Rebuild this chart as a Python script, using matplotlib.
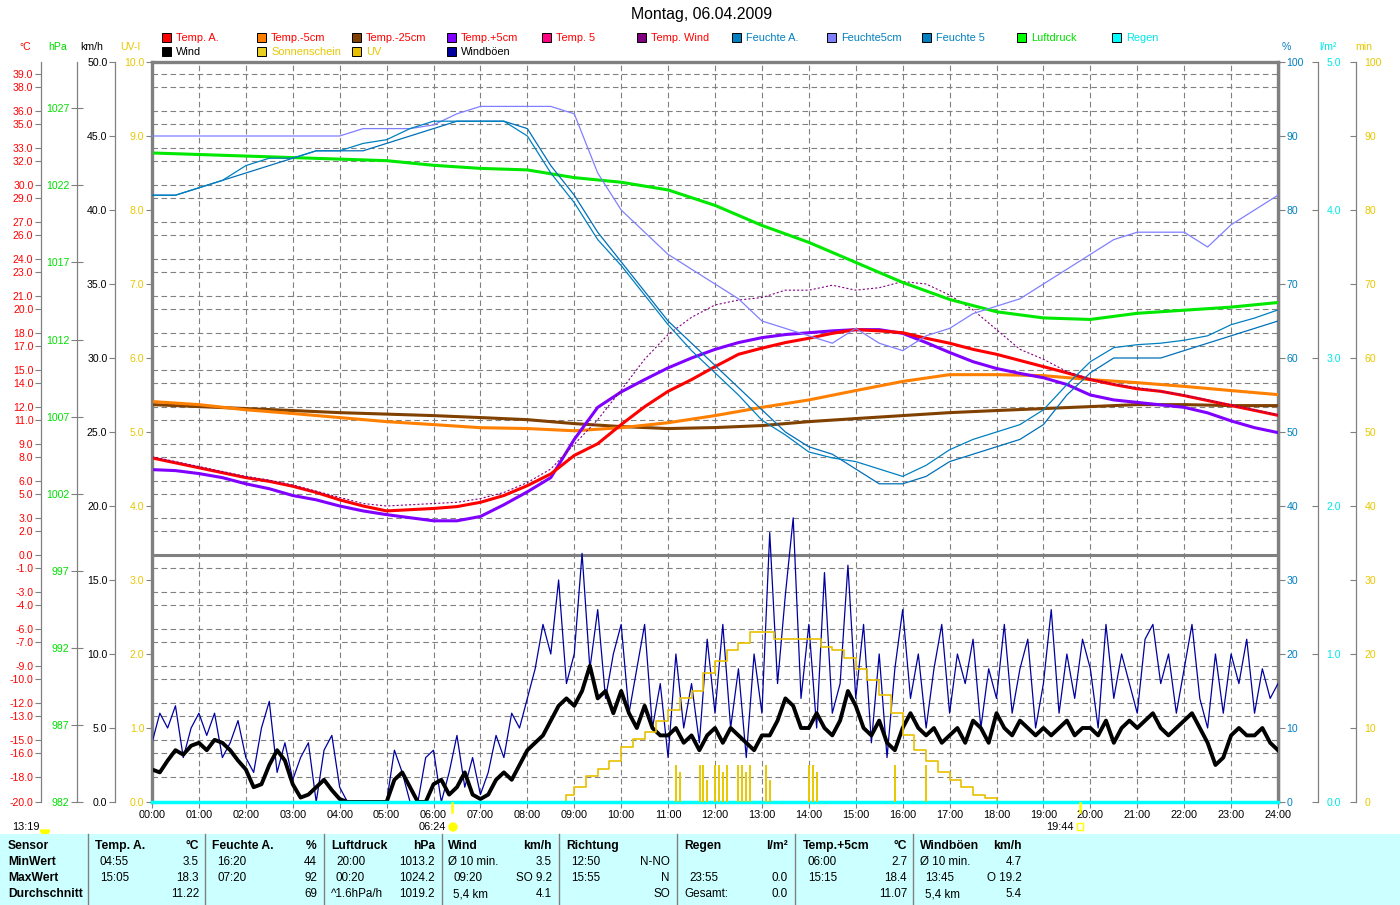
import numpy as np
import matplotlib
matplotlib.use("Agg")
import matplotlib.pyplot as plt
from matplotlib.patches import Rectangle

plt.rcParams['font.family'] = ['Liberation Sans', 'DejaVu Sans']
plt.rcParams['lines.scale_dashes'] = False

# ---------------- data ----------------
t30 = np.arange(0, 24.01, 0.5)
t60 = np.arange(0, 25, 1.0)
t10 = np.arange(0, 24.01, 1 / 6)

temp_a = [7.9, 7.5, 7.1, 6.7, 6.3, 6.0, 5.6, 5.1, 4.5, 4.0, 3.6, 3.7, 3.8, 3.95, 4.3, 4.85,
          5.65, 6.6, 8.1, 9.05, 10.6, 12.05, 13.3, 14.25, 15.3, 16.3, 16.8, 17.25, 17.6, 18.0,
          18.3, 18.2, 18.05, 17.6, 17.2, 16.7, 16.3, 15.8, 15.3, 14.8, 14.25, 13.85, 13.5, 13.3,
          12.95, 12.55, 12.15, 11.75, 11.35]
temp_p5 = [6.95, 6.87, 6.63, 6.3, 5.8, 5.4, 4.85, 4.5, 4.0, 3.6, 3.3, 3.05, 2.8, 2.8, 3.15, 4.1,
           5.15, 6.3, 9.4, 12.0, 13.25, 14.25, 15.2, 16.0, 16.7, 17.25, 17.65, 17.9, 18.05, 18.2,
           18.3, 18.3, 18.0, 17.25, 16.45, 15.7, 15.15, 14.75, 14.4, 13.85, 13.0, 12.6, 12.4, 12.2,
           12.0, 11.55, 10.9, 10.35, 9.95]
temp_wind = [8.0, 7.6, 7.2, 6.8, 6.4, 6.1, 5.7, 5.2, 4.7, 4.2, 4.0, 4.1, 4.2, 4.3, 4.6, 5.1,
             5.9, 7.0, 9.0, 11.0, 13.4, 15.9, 17.9, 19.3, 20.3, 20.7, 20.9, 21.5, 21.5, 21.9,
             21.5, 21.7, 22.2, 22.0, 21.1, 19.9, 18.3, 16.7, 15.9, 14.9, 14.3, 13.9, 13.6, 13.3,
             13.0, 12.6, 12.2, 11.8, 11.4]
temp_m5 = [12.47, 12.22, 11.8, 11.5, 11.17, 10.84, 10.6, 10.35, 10.28, 10.1, 10.35, 10.75, 11.33,
           12.0, 12.6, 13.36, 14.1, 14.65, 14.65, 14.57, 14.25, 14.0, 13.7, 13.36, 13.03]
temp_m25 = [12.22, 12.06, 11.9, 11.74, 11.57, 11.45, 11.33, 11.17, 11.0, 10.68, 10.44, 10.28, 10.36,
            10.52, 10.84, 11.09, 11.33, 11.57, 11.74, 11.9, 12.06, 12.22, 12.22, 12.14, 12.14]
pressure = [1024.1, 1024.0, 1023.9, 1023.8, 1023.7, 1023.6, 1023.3, 1023.1, 1023.0, 1022.5, 1022.2,
            1021.7, 1020.7, 1019.4, 1018.3, 1017.0, 1015.7, 1014.6, 1013.8, 1013.4, 1013.3, 1013.7,
            1013.9, 1014.1, 1014.4]
hum_a = [82, 82, 83, 84, 86, 87, 87, 88, 88, 89, 89.5, 91, 92, 92, 92, 92, 90, 85, 81, 76, 72.5,
         68.5, 64.5, 61, 58, 55, 51.6, 49.6, 47.3, 46.5, 46, 45, 44, 45.5, 47.6, 49, 50, 51, 53,
         56.4, 59.5, 61.4, 61.8, 62, 62.4, 63, 64.5, 65.4, 66.5]
hum_5 = [82, 82, 83, 84, 85, 86, 87, 88, 88, 88, 89, 90, 91, 92, 92, 92, 91, 86, 82, 77, 73, 69,
         65, 62, 59, 56, 53, 50, 48, 47, 45, 43, 43, 44, 46, 47, 48, 49, 51, 55, 58, 60, 60, 60,
         61, 62, 63, 64, 65]
hum_5cm = [90, 90, 90, 90, 90, 90, 90, 90, 90, 91, 91, 91, 91.5, 93, 94, 94, 94, 94, 93, 85, 80,
           77, 74, 72, 70, 68, 65, 64, 63, 62, 64, 62, 61, 63, 64, 66, 67, 68, 70, 72, 74, 76,
           77, 77, 77, 75, 78, 80, 82]

wind = [2.2, 2.0, 2.8, 3.5, 3.2, 3.8,  4.0, 3.5, 4.2, 4.0, 3.5, 2.8,  2.2, 1.0, 1.2, 2.5, 3.5, 2.8,
        1.2, 0.3, 0.5, 1.0, 1.5, 0.8,  0.2, 0.0, 0.0, 0.0, 0.0, 0.0,  0.0, 1.5, 2.0, 1.0, 0.0, 0.0,
        1.2, 1.5, 0.5, 1.0, 2.0, 0.5,  0.2, 0.5, 1.5, 2.0, 1.5, 2.5,  3.5, 4.0, 4.5, 5.5, 6.5, 7.0,
        6.5, 7.5, 9.2, 7.0, 7.5, 6.0,  7.5, 6.0, 5.0, 6.5, 5.0, 4.5,  4.5, 5.0, 4.0, 4.5, 3.5, 4.5,
        5.0, 4.0, 5.0, 4.5, 4.0, 3.5,  4.5, 4.5, 5.5, 7.0, 6.5, 5.0,  5.0, 6.0, 5.0, 4.5, 5.5, 7.5,
        6.5, 5.0, 4.5, 5.5, 4.0, 3.5,  5.0, 6.0, 5.0, 4.5, 5.0, 4.0,  4.5, 5.0, 4.0, 5.5, 5.0, 4.0,
        6.0, 5.0, 4.5, 5.5, 5.0, 4.5,  5.0, 4.5, 5.0, 5.5, 4.5, 5.0,  5.0, 4.5, 5.5, 4.0, 5.0, 5.5,
        5.0, 5.5, 6.0, 5.0, 4.5, 5.0,  5.5, 6.0, 5.0, 4.0, 2.5, 3.0,  4.5, 5.0, 4.5, 4.5, 5.0, 4.0,
        3.5]
gust = [4, 6, 5, 6.5, 3, 5,  6, 4.5, 6, 3, 4, 5.5,  3, 2, 5, 6.8, 2, 4,  1.5, 3, 4, 0, 3.5, 4.5,
        1, 0, 0, 0, 0, 0,  0, 3.5, 2, 0, 0, 3,  3.5, 0, 2, 4.5, 1, 3,  0.5, 2, 4.5, 3, 6, 5,
        7, 9, 12, 10, 15, 8,  10, 16.8, 9, 13, 7, 10,  12, 6, 9, 12, 5, 8,  3, 10, 5, 8, 4, 11,
        6, 12, 5, 9, 3, 10,  6, 18.2, 8, 14, 19.2, 7,  12, 5, 15.5, 6, 8, 16,  7, 12, 4, 10, 3, 9,
        13, 7, 10, 5, 9, 12,  6, 10, 8, 11, 5, 9,  7, 12, 6, 9, 11, 5,  8, 13, 6, 10, 7, 11,
        9, 5, 12, 7, 10, 8,  6, 11, 12, 8, 10, 6,  9, 12, 7, 5, 10, 6,  10, 8, 11, 6, 9, 7,
        8]

uv_t = [8.67, 8.83, 9.0, 9.25, 9.5, 9.75, 10.0, 10.25, 10.5, 10.75, 11.0, 11.25, 11.5, 11.75, 12.0,
        12.25, 12.5, 12.75, 13.0, 13.25, 13.5, 13.75, 14.0, 14.25, 14.5, 14.75, 15.0, 15.25, 15.5,
        15.75, 16.0, 16.25, 16.5, 16.75, 17.0, 17.25, 17.5, 17.75, 18.0]
uv = [0.0, 0.1, 0.2, 0.35, 0.45, 0.55, 0.75, 0.85, 0.95, 1.1, 1.25, 1.4, 1.5, 1.75, 1.9, 2.05,
      2.15, 2.3, 2.3, 2.2, 2.2, 2.2, 2.2, 2.1, 2.05, 1.95, 1.8, 1.65, 1.45, 1.2, 0.9, 0.7, 0.55,
      0.4, 0.3, 0.2, 0.1, 0.05, 0.0]
sun_t = [11.17, 11.25, 11.67, 11.75, 11.83, 12.0, 12.08, 12.17, 12.25, 12.5, 12.58, 12.67, 12.75,
         13.08, 13.17, 14.0, 14.08, 14.17, 15.83, 16.5]
sun_min = [5, 4, 5, 5, 3, 5, 5, 4, 5, 5, 5, 4, 5, 5, 3, 5, 5, 4, 5, 5]
rain = [0.0, 0.0]
rain_t = [0, 24]

c_ticks = [39, 38, 36, 35, 33, 32, 30, 29, 27, 26, 24, 23, 21, 20, 18, 17, 15, 14, 12, 11, 9, 8,
           6, 5, 3, 2, 0, -1, -3, -4, -6, -7, -9, -10, -12, -13, -15, -16, -18, -20]
hours = [f"{h:02d}:00" for h in range(25)]

# ---------------- layout ----------------
W, H = 1400, 905
X0, X1, Y0, Y1 = 152, 1278, 62, 802
fig = plt.figure(figsize=(W / 100, H / 100), dpi=100)
rect = [X0 / W, 1 - Y1 / H, (X1 - X0) / W, (Y1 - Y0) / H]
GREY = '#808080'
RED, GREEN, BLUE, CYAN, YEL = '#ff0000', '#00e000', '#0080c0', '#00e8e8', '#e8c800'
FS = 7.6
TFS = 8.4

ax = fig.add_axes(rect)
ax.set_xlim(0, 24)
ax.set_ylim(-20, 40)
ax.set_yticks([])
ax.set_xticks(range(25))
ax.set_xticklabels(hours, fontsize=7.8)
ax.tick_params(axis='x', length=4, color=GREY, pad=2)
for v in c_ticks:
    if v not in (0, -20):
        ax.axhline(v, color=GREY, lw=0.8, dashes=(4, 2.5), zorder=0)
for h in range(1, 24):
    ax.axvline(h, color=GREY, lw=0.8, dashes=(4, 2.5), zorder=0)
ax.axhline(0, color=GREY, lw=2.2, zorder=1)
for s in ('left', 'top', 'right'):
    ax.spines[s].set_color(GREY)
    ax.spines[s].set_linewidth(2.4)
ax.spines['bottom'].set_color(GREY)
ax.spines['bottom'].set_linewidth(1)


def scale_axis(ylim, side, xpx, ticks, labels, color, direction, length=4):
    a = fig.add_axes(rect, sharex=ax)
    a.patch.set_visible(False)
    a.set_ylim(*ylim)
    for s in a.spines.values():
        s.set_visible(False)
    a.spines[side].set_visible(True)
    a.spines[side].set_color(GREY)
    a.spines[side].set_linewidth(0.9)
    a.spines[side].set_position(('axes', (xpx - X0) / (X1 - X0)))
    a.yaxis.set_ticks_position(side)
    a.yaxis.set_label_position(side)
    a.set_yticks(ticks)
    a.set_yticklabels(labels, color=color, fontsize=FS)
    a.tick_params(axis='y', direction=direction, length=length, color=GREY, pad=1.5)
    a.tick_params(axis='x', which='both', bottom=False, labelbottom=False)
    return a


ax_c = scale_axis((-20, 40), 'left', 41, c_ticks, [f"{v:.1f}" for v in c_ticks], RED, 'out')
pt = list(range(982, 1030, 5))
ax_p = scale_axis((982, 1030), 'left', 77, pt, [str(v) for v in pt], GREEN, 'inout', 8)
kt = list(range(0, 51, 5))
ax_k = scale_axis((0, 50), 'left', 115, kt, [f"{v:.1f}" for v in kt], 'black', 'out')
ut = list(range(0, 11))
ax_u = scale_axis((0, 10), 'left', X0, ut, [f"{v:.1f}" for v in ut], YEL, 'out')
ht = list(range(0, 101, 10))
ax_h = scale_axis((0, 100), 'right', X1 + 1, ht, [str(v) for v in ht], BLUE, 'out')
rt = [0, 1, 2, 3, 4, 5]
ax_r = scale_axis((0, 5), 'right', 1318, rt, [f"{v:.1f}" for v in rt], CYAN, 'in')
mt = list(range(0, 101, 10))
ax_m = scale_axis((0, 100), 'right', 1356, mt, [str(v) for v in mt], YEL, 'in')
for a in (ax_r, ax_m):
    a.tick_params(axis='y', pad=6)

# ---------------- series ----------------
ax_m.vlines(sun_t, 0, sun_min, color='#e8c800', lw=1.4)
ax_u.plot(uv_t, uv, color='#e8c000', lw=1.2, drawstyle='steps-post')
ax_r.plot(rain_t, rain, color='#00ffff', lw=2.5, clip_on=False)
ax_h.plot(t30, hum_5cm, color='#8080ff', lw=0.9)
ax_h.plot(t30, hum_5, color='#0070b8', lw=0.9)
ax_h.plot(t30, hum_a, color='#0080c0', lw=0.9)
ax_p.plot(t60, pressure, color='#00e800', lw=2.2)
ax_c.plot(t60, temp_m25, color='#804000', lw=2.2)
ax_c.plot(t60, temp_m5, color='#ff8000', lw=2.2)
ax_c.plot(t30, temp_p5, color='#8000ff', lw=2.2)
ax_c.plot(t30, temp_a, color='#ff0000', lw=2.2)
ax_c.plot(t30, temp_wind, color='#800080', lw=0.8, dashes=(1.5, 1.5))
ax_k.plot(t10, gust, color='#0000a0', lw=0.9)
ax_k.plot(t10, wind, color='black', lw=2.8)

# ---------------- overlay: labels, legend, table ----------------
ov = fig.add_axes([0, 0, 1, 1])
ov.set_xlim(0, W)
ov.set_ylim(H, 0)
ov.axis('off')
ov.patch.set_visible(False)

ov.text(702, 15, "Montag, 06.04.2009", ha='center', va='center', fontsize=11.4)
for txt, x, col in [("°C", 25, RED), ("hPa", 58, GREEN), ("km/h", 92, 'black'), ("UV-I", 130, YEL),
                    ("%", 1286, BLUE), ("l/m²", 1328, CYAN), ("min", 1364, YEL)]:
    ov.text(x, 47, txt, ha='center', va='center', fontsize=FS, color=col)

legend_row1 = [("Temp. A.", '#ff0000', RED), ("Temp.-5cm", '#ff8000', RED), ("Temp.-25cm", '#804000', RED),
               ("Temp.+5cm", '#8000ff', RED), ("Temp. 5", '#ff0080', RED), ("Temp. Wind", '#800080', RED),
               ("Feuchte A.", '#0080c0', BLUE), ("Feuchte5cm", '#8080ff', BLUE), ("Feuchte 5", '#0080c0', BLUE),
               ("Luftdruck", '#00ff00', GREEN), ("Regen", '#00ffff', CYAN)]
legend_row2 = [("Wind", '#000000', 'black'), ("Sonnenschein", '#e8d020', YEL), ("UV", '#e8c000', YEL),
               ("Windböen", '#0000a0', 'black')]
for row, yc in ((legend_row1, 38), (legend_row2, 52)):
    for i, (name, sq, tc) in enumerate(row):
        x = 162 + 95 * i
        ov.add_patch(Rectangle((x, yc - 4.5), 9, 9, facecolor=sq, edgecolor='black', lw=0.7))
        ov.text(x + 14, yc, name, va='center', ha='left', fontsize=FS + 0.3, color=tc)

# sunrise / sunset
ov.text(12, 827, "13:19", va='center', ha='left', fontsize=FS + 0.3)
ov.add_patch(matplotlib.patches.Wedge((45, 830), 4.5, 0, 180, color='#ffff00'))
ov.plot([452, 452], [803, 812], color='#ffff00', lw=1.8)
ov.text(446, 827, "06:24", va='center', ha='right', fontsize=FS + 0.3)
ov.add_patch(matplotlib.patches.Circle((453, 827), 4, color='#ffff00'))
ov.plot([1080, 1080], [803, 812], color='#ffff00', lw=1.8)
ov.text(1074, 827, "19:44", va='center', ha='right', fontsize=FS + 0.3)
ov.add_patch(Rectangle((1077, 823), 6, 7, facecolor='none', edgecolor='#ffff00', lw=1))

# table
ov.add_patch(Rectangle((0, 834), W, H - 834, facecolor='#ccffff', edgecolor='none'))
for xs in (88, 205, 324, 442, 559, 677, 795, 913):
    ov.plot([xs, xs], [834, H], color=GREY, lw=1)
rows_y = [846, 862, 878, 894]
for txt, yy in zip(["Sensor", "MinWert", "MaxWert", "Durchschnitt"], rows_y):
    ov.text(8, yy, txt, va='center', ha='left', fontsize=TFS + 0.3, fontweight='bold')

table = [
    (95, 199, ("Temp. A.", "°C"), [("04:55", "3.5"), ("15:05", "18.3"), ("", "11.22")]),
    (212, 317, ("Feuchte A.", "%"), [("16:20", "44"), ("07:20", "92"), ("", "69")]),
    (331, 435, ("Luftdruck", "hPa"), [("20:00", "1013.2"), ("00:20", "1024.2"), ("^1.6hPa/h", "1019.2")]),
    (448, 552, ("Wind", "km/h"), [("Ø 10 min.", "3.5"), ("09:20", "SO 9.2"), ("5,4 km", "4.1")]),
    (566, 670, ("Richtung", ""), [("12:50", "N-NO"), ("15:55", "N"), ("", "SO")]),
    (684, 788, ("Regen", "l/m²"), [("", ""), ("23:55", "0.0"), ("Gesamt:", "0.0")]),
    (803, 907, ("Temp.+5cm", "°C"), [("06:00", "2.7"), ("15:15", "18.4"), ("", "11.07")]),
    (920, 1022, ("Windböen", "km/h"), [("Ø 10 min.", "4.7"), ("13:45", "O 19.2"), ("5,4 km", "5.4")]),
]
for xl, xr, head, vals in table:
    ov.text(xl, rows_y[0], head[0], va='center', ha='left', fontsize=TFS + 0.3, fontweight='bold')
    ov.text(xr, rows_y[0], head[1], va='center', ha='right', fontsize=TFS + 0.3, fontweight='bold')
    for (a, b), yy in zip(vals, rows_y[1:]):
        indent = 0 if (a.startswith("Ø") or a.startswith("^") or a.startswith("G")) else 5
        ov.text(xl + indent, yy, a, va='center', ha='left', fontsize=TFS)
        ov.text(xr, yy, b, va='center', ha='right', fontsize=TFS)

fig.savefig("out.png", dpi=100)
